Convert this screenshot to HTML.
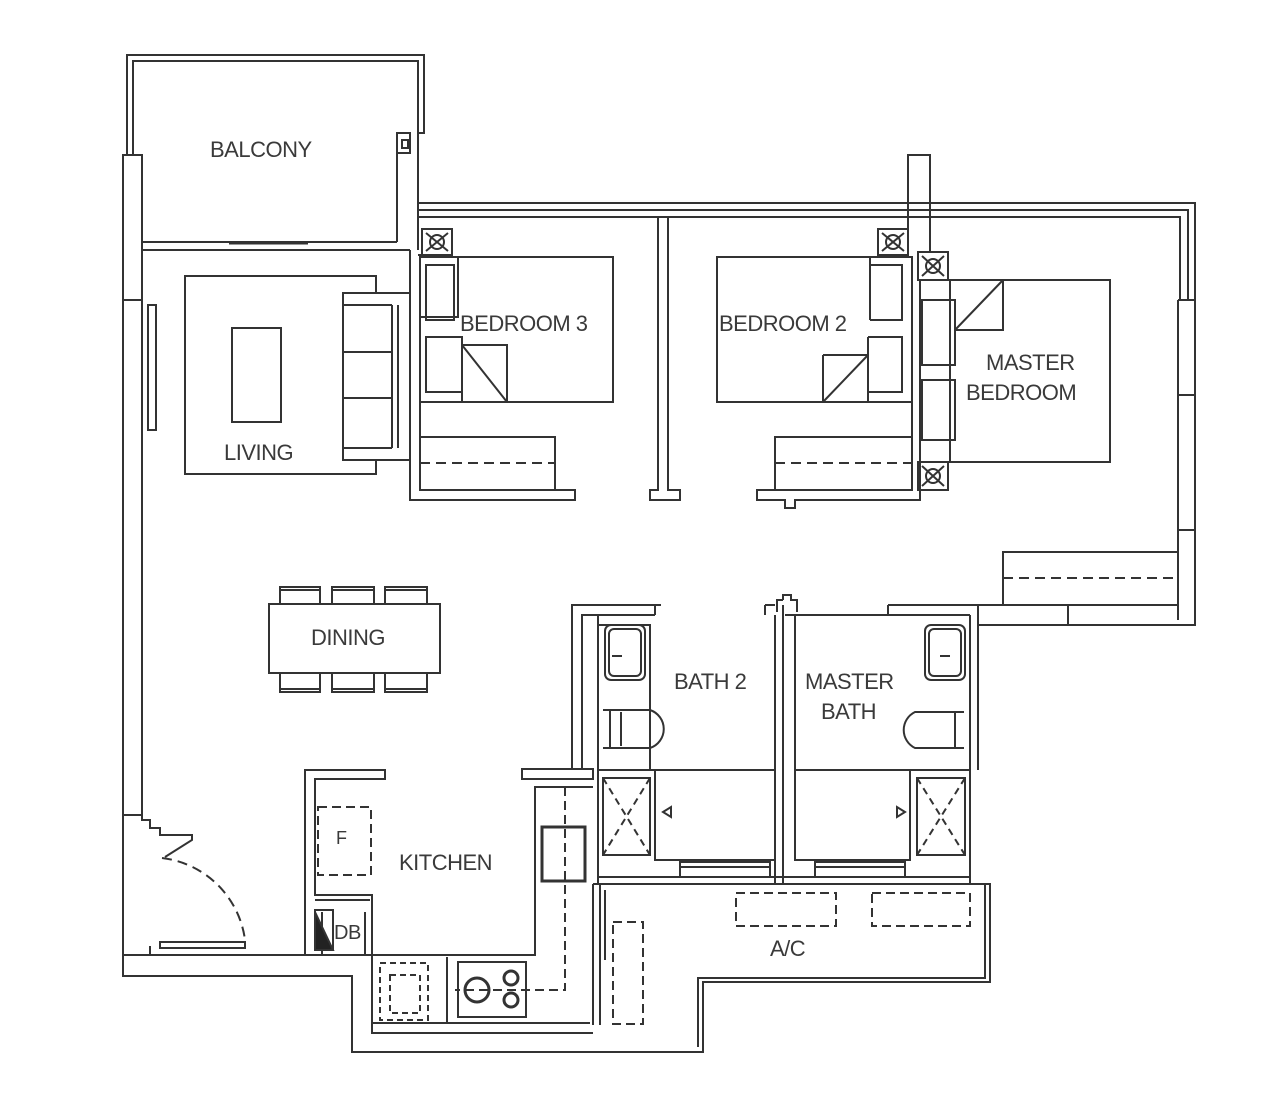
<!DOCTYPE html>
<html><head><meta charset="utf-8"><style>
html,body{margin:0;padding:0;background:#fff;}
svg{display:block}
text{font-family:"Liberation Sans",sans-serif;fill:#3a3a3a;font-size:22px;letter-spacing:-0.5px}
</style></head><body>
<svg width="1266" height="1108" viewBox="0 0 1266 1108" xmlns="http://www.w3.org/2000/svg">
<g fill="none" stroke="#333" stroke-width="2">
<!-- Balcony -->
<path d="M127,155 V55 H424 V133 H418 V250"/>
<path d="M133,155 V61 H418 V133"/>
<path d="M397,133 V242"/>
<rect x="397" y="133" width="13" height="20"/>
<rect x="402" y="140" width="6" height="8"/>
<path d="M142,242 H397 M142,250 H410"/>
<path d="M229,243 H308" stroke-width="3"/>
<!-- left exterior wall -->
<path d="M123,155 H142 V300 H123 Z"/>
<path d="M123,300 V815 M142,300 V815"/>
<rect x="148" y="305" width="8" height="125"/>
<!-- top wall -->
<path d="M418,203 H1195 V300 M418,210 H1188 V300 M418,217 H1180 V300"/>
<!-- right wall -->
<path d="M1178,300 H1195 V625 H978 M1178,300 V530 M1178,395 H1195 M1178,530 H1195 M1178,530 V620"/>
<path d="M978,605 H1178 M1068,605 V625 M978,605 V625"/>
<!-- pillar -->
<path d="M908,235 V155 H930 V252"/>
<!-- Bedroom 3 walls -->
<path d="M410,250 V500 H575 V490 H420 V255"/>
<path d="M418,255 H445"/>
<rect x="422" y="229" width="30" height="26"/>
<path d="M426,233 L448,251 M448,233 L426,251"/><circle cx="437" cy="242" r="7"/>
<!-- divider -->
<path d="M658,217 V490 H650 V500 H680 V490 H668 V217"/>
<!-- bedroom 2 walls -->
<path d="M912,260 V490 H757 V500 H785 V508 H795 V500 H920 V280"/>
<rect x="878" y="229" width="30" height="26"/>
<path d="M882,233 L904,251 M904,233 L882,251"/><circle cx="893" cy="242" r="7"/>
<rect x="918" y="252" width="30" height="28"/>
<path d="M922,256 L944,276 M944,256 L922,276"/><circle cx="933" cy="266" r="7"/>
<rect x="918" y="462" width="30" height="28"/>
<path d="M922,466 L944,486 M944,466 L922,486"/><circle cx="933" cy="476" r="7"/>
<!-- bedroom 3 bed -->
<rect x="420" y="257" width="193" height="145"/>
<rect x="420" y="257" width="38" height="60"/>
<rect x="426" y="265" width="28" height="55"/>
<rect x="426" y="337" width="36" height="55"/>
<path d="M462,337 V402 M462,345 H507 V402 M462,345 L507,402"/>
<rect x="420" y="437" width="135" height="53"/>
<path d="M420,463 H555" stroke-dasharray="10,6"/>
<!-- bedroom 2 bed -->
<rect x="717" y="257" width="195" height="145"/>
<path d="M870,257 V320 M870,265 H902 V320 H870 M868,337 H902 V392 H868 V337 M868,337 V402 M823,355 H868 M823,355 V402 M823,402 L868,355"/>
<rect x="775" y="437" width="137" height="53"/>
<path d="M775,463 H912" stroke-dasharray="10,6"/>
<!-- master bed -->
<rect x="950" y="280" width="160" height="182"/>
<path d="M922,300 H955 V365 H922 Z M922,380 H955 V440 H922 Z M955,330 H1003 V280 M955,330 L1003,280"/>
<rect x="1003" y="552" width="175" height="53"/>
<path d="M1003,578 H1178" stroke-dasharray="10,6"/>
<!-- living -->
<rect x="185" y="276" width="191" height="198"/>
<rect x="232" y="328" width="49" height="94"/>
<rect x="343" y="293" width="67" height="167" fill="#fff"/>
<path d="M343,305 H392 M343,352 H392 M343,398 H392 M343,448 H392 M392,305 V448 M398,305 V448"/>
<!-- dining -->
<rect x="280" y="587" width="40" height="17"/><rect x="332" y="587" width="42" height="17"/><rect x="385" y="587" width="42" height="17"/>
<rect x="280" y="673" width="40" height="19"/><rect x="332" y="673" width="42" height="19"/><rect x="385" y="673" width="42" height="19"/>
<path d="M280,590 H320 M332,590 H374 M385,590 H427 M280,689 H320 M332,689 H374 M385,689 H427"/>
<rect x="269" y="604" width="171" height="69" fill="#fff"/>
<!-- baths -->
<path d="M572,770 V605 H655 V615 M582,770 V615 H655 M598,615 V885 M598,770 H775 M598,625 H650 V770 M655,770 V860 H775"/>
<path d="M775,615 V885 M783,605 V885 M785,615 H970 M795,615 V860 H910 V770 M795,770 H970 M970,615 V885 M978,625 V770 M888,605 H978 M888,605 V615"/>
<path d="M777,612 V600 H783 M783,600 V595 H791 V600 H797 V612"/>
<path d="M655,615 V605 H661 M765,605 V615 M765,605 H775"/>
<rect x="605" y="625" width="40" height="55" rx="6"/><rect x="609" y="629" width="32" height="47" rx="5"/>
<path d="M612,656 H622" />
<rect x="925" y="625" width="40" height="55" rx="6"/><rect x="929" y="629" width="32" height="47" rx="5"/>
<path d="M940,656 H950"/>
<path d="M603,710 H650 A20,20 0 0 1 650,748 H603 M610,710 V748 M621,712 V746"/>
<path d="M964,712 H915 A20,20 0 0 0 915,748 H964 M955,712 V748"/>
<rect x="603" y="778" width="47" height="77"/>
<path d="M603,778 L650,855 M650,778 L603,855" stroke-dasharray="7,5"/>
<rect x="917" y="778" width="48" height="77"/>
<path d="M917,778 L965,855 M965,778 L917,855" stroke-dasharray="7,5"/>
<path d="M663,812 l8,-5 v10 z M905,812 l-8,-5 v10 z"/>
<path d="M680,862 H770 M680,867 H770 M815,862 H905 M815,867 H905 M598,877 H970 M680,860 V877 M815,860 V877 M770,860 V877 M905,860 V877"/>
<!-- A/C -->
<path d="M593,884 H990 V982 H703 V1052 H352 V976 H123 V815 M593,884 V1025"/>
<path d="M600,884 V1025 M605,890 V960"/>
<path d="M985,884 V978 H698 V1047"/>
<rect x="736" y="893" width="100" height="33" stroke-dasharray="9,5"/>
<rect x="872" y="893" width="98" height="33" stroke-dasharray="9,5"/>
<rect x="613" y="922" width="30" height="102" stroke-dasharray="9,5"/>
<!-- entry door -->
<path d="M123,815 H142 V808 M142,815 V820 H150 V828 H160 V835 H192 V840 L165,857"/>
<path d="M162,858 A95,95 0 0 1 245,940" stroke-dasharray="10,6"/>
<path d="M160,942 H245 V948 H160 Z M150,946 V955 M123,955 H352"/>
<!-- kitchen -->
<path d="M305,955 V770 H385 V779 H315 V895 H372 V955 M315,900 H370 M322,955 V912 M365,912 V955"/>
<rect x="318" y="807" width="53" height="68" stroke-dasharray="9,5"/>
<path d="M315,910 V950 L333,950 L333,910 Z"/>
<path d="M315,912 L333,950 L315,950 Z" fill="#222"/>
<path d="M352,955 H535 V787 H593 M522,769 H593 V779 H522 Z"/>
<path d="M372,955 V1033 H593 M372,1023 H590"/>
<path d="M565,787 V990 H455" stroke-dasharray="9,5"/>
<rect x="542" y="827" width="43" height="54" stroke-width="3"/>
<rect x="380" y="963" width="48" height="57" stroke-dasharray="6,4"/>
<rect x="390" y="975" width="30" height="38" stroke-dasharray="6,4"/>
<path d="M447,957 V1023"/>
<rect x="458" y="962" width="68" height="55"/>
<circle cx="477" cy="990" r="12" stroke-width="3"/>
<circle cx="511" cy="978" r="7" stroke-width="3"/><circle cx="511" cy="1000" r="7" stroke-width="3"/>
</g>
<text x="210" y="157">BALCONY</text>
<text x="224" y="460">LIVING</text>
<text x="460" y="331">BEDROOM 3</text>
<text x="719" y="331">BEDROOM 2</text>
<text x="986" y="370">MASTER</text>
<text x="966" y="400">BEDROOM</text>
<text x="311" y="645">DINING</text>
<text x="674" y="689">BATH 2</text>
<text x="805" y="689">MASTER</text>
<text x="821" y="719">BATH</text>
<text x="399" y="870">KITCHEN</text>
<text x="336" y="844" style="font-size:18px">F</text>
<text x="334" y="939" style="font-size:20px">DB</text>
<text x="770" y="956">A/C</text>
</svg>
</body></html>
